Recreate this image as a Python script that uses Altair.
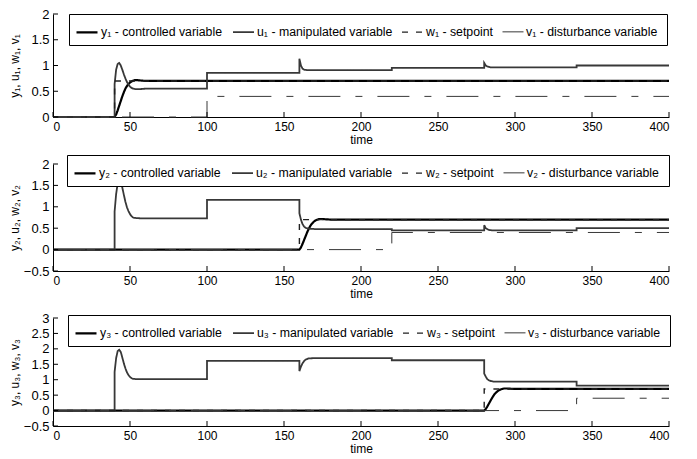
import altair as alt
import pandas as pd

# ---------------- data ----------------
x_ticks = [0, 50, 100, 150, 200, 250, 300, 350, 400]

# controlled-variable step response shape (offset added per panel)
y_rise_t = [0, 1, 2, 3, 4, 5, 6, 7, 8, 9, 10, 11, 12, 13, 15, 18, 22]
y_rise_v = [0, 0.05, 0.13, 0.22, 0.31, 0.40, 0.48, 0.55, 0.60, 0.64, 0.67, 0.69, 0.705, 0.715, 0.715, 0.705, 0.70]

# panel 1
y1_t = [0] + [40 + t for t in y_rise_t] + [400]
y1_v = [0] + y_rise_v + [0.70]
u1_t = [0, 40, 40, 41, 42, 43, 44, 45, 46, 47, 48, 49, 50, 51, 52, 54, 56, 60, 100, 100,
        160, 160, 161, 162, 163, 165, 220, 220, 280, 280, 281, 282, 284, 340, 340, 400]
u1_v = [0, 0, 0.64, 0.92, 1.03, 1.05, 1.0, 0.92, 0.83, 0.75, 0.68, 0.63, 0.59, 0.565, 0.55, 0.54, 0.54, 0.55, 0.55, 0.855,
        0.855, 1.13, 1.0, 0.94, 0.92, 0.91, 0.91, 0.955, 0.955, 1.05, 1.0, 0.98, 0.965, 0.965, 1.0, 1.0]
w1_t = [0, 40, 40, 400]
w1_v = [0, 0, 0.7, 0.7]
v1_t = [0, 100, 100, 400]
v1_v = [0, 0, 0.4, 0.4]

# panel 2
y2_t = [0] + [160 + t for t in y_rise_t] + [400]
y2_v = [0] + y_rise_v + [0.70]
u2_t = [0, 40, 40, 41, 42, 43, 44, 45, 46, 47, 48, 49, 50, 51, 52, 54, 58, 100, 100,
        160, 160, 161, 162, 163, 164, 166, 170, 220, 220, 280, 280, 281, 283, 285, 340, 340, 400]
u2_v = [0, 0, 0.89, 1.30, 1.55, 1.63, 1.58, 1.45, 1.28, 1.12, 0.99, 0.90, 0.83, 0.78, 0.75, 0.735, 0.73, 0.73, 1.16,
        1.16, 0.85, 0.70, 0.60, 0.54, 0.51, 0.49, 0.48, 0.48, 0.45, 0.45, 0.57, 0.50, 0.46, 0.45, 0.45, 0.50, 0.50]
w2_t = [0, 160, 160, 400]
w2_v = [0, 0, 0.7, 0.7]
v2_t = [0, 220, 220, 400]
v2_v = [0, 0, 0.4, 0.4]

# panel 3
y3_t = [0] + [280 + t for t in y_rise_t] + [400]
y3_v = [0] + y_rise_v + [0.70]
u3_t = [0, 40, 40, 41, 42, 43, 44, 45, 46, 47, 48, 49, 50, 51, 52, 54, 58, 100, 100,
        160, 160, 161, 162, 163, 164, 166, 170, 220, 220,
        280, 280, 281, 282, 283, 284, 286, 290, 340, 340, 400]
u3_v = [0, 0, 1.25, 1.70, 1.93, 1.97, 1.90, 1.72, 1.53, 1.37, 1.24, 1.15, 1.09, 1.05, 1.03, 1.02, 1.02, 1.02, 1.61,
        1.61, 1.28, 1.42, 1.53, 1.60, 1.65, 1.69, 1.70, 1.70, 1.63,
        1.63, 1.20, 1.10, 1.02, 0.98, 0.96, 0.94, 0.935, 0.935, 0.81, 0.81]
w3_t = [0, 280, 280, 400]
w3_v = [0, 0, 0.7, 0.7]
v3_t = [0, 340, 340, 400]
v3_v = [0, 0, 0.4, 0.4]

subs = ["\u2081", "\u2082", "\u2083"]
y_domains = [[0, 2], [-0.5, 2], [-0.5, 3]]
y_ticks = [[0, 0.5, 1, 1.5, 2], [-0.5, 0, 0.5, 1, 1.5, 2], [-0.5, 0, 0.5, 1, 1.5, 2, 2.5, 3]]

panels = [
    [(y1_t, y1_v), (u1_t, u1_v), (w1_t, w1_v), (v1_t, v1_v)],
    [(y2_t, y2_v), (u2_t, u2_v), (w2_t, w2_v), (v2_t, v2_v)],
    [(y3_t, y3_v), (u3_t, u3_v), (w3_t, w3_v), (v3_t, v3_v)],
]

FONT = "Liberation Sans"
W = 616
HEIGHTS = [103, 107, 108]
LEG_XY = [(16, 0), (14, -9), (15, -3)]


def make_panel(k):
    s = subs[k]
    names = [f"y{s}  - controlled variable", f"u{s}  - manipulated variable",
             f"w{s}  - setpoint", f"v{s}  - disturbance variable"]
    rows = []
    for name, (ts, vs) in zip(names, panels[k]):
        for i, (t, v) in enumerate(zip(ts, vs)):
            rows.append({"t": t, "v": v, "s": name, "i": i})
    df = pd.DataFrame(rows)
    H = HEIGHTS[k]
    xscale = alt.Scale(domain=[0, 400], nice=False)
    yscale = alt.Scale(domain=y_domains[k], nice=False, zero=False)
    xaxis = alt.Axis(values=x_ticks, title="time", format="d", labelOverlap=False)
    yaxis = alt.Axis(values=y_ticks[k], title=f"y{s}, u{s}, w{s}, v{s}", format="~g", labelOverlap=False)

    lx, ly = LEG_XY[k]
    legend = alt.Legend(
        title=None, orient="none", legendX=lx, legendY=ly, direction="horizontal",
        strokeColor="black", fillColor="white", padding=6, symbolType="stroke",
        symbolSize=441, labelFont=FONT, labelFontSize=12.3,
        labelColor="black", labelLimit=300, labelOffset=2, columnPadding=3,
    )
    lines = alt.Chart(df).mark_line().encode(
        x=alt.X("t:Q", scale=xscale, axis=xaxis),
        y=alt.Y("v:Q", scale=yscale, axis=yaxis),
        color=alt.Color("s:N", scale=alt.Scale(domain=names, range=["#000000", "#383838", "#202020", "#383838"]),
                        legend=legend),
        strokeDash=alt.StrokeDash("s:N", scale=alt.Scale(domain=names, range=[[1, 0], [1, 0], [6, 8], [32, 15, 7, 15]]),
                                  legend=legend),
        strokeWidth=alt.StrokeWidth("s:N", scale=alt.Scale(domain=names, range=[2.2, 1, 1, 1]), legend=legend),
        order="i:Q",
    )
    xt = alt.Chart(pd.DataFrame({"t": x_ticks})).mark_rule(color="black", strokeWidth=1).encode(
        x=alt.X("t:Q", scale=xscale, axis=xaxis), y=alt.value(H), y2=alt.value(H - 5))
    yt = alt.Chart(pd.DataFrame({"v": y_ticks[k]})).mark_rule(color="black", strokeWidth=1).encode(
        y=alt.Y("v:Q", scale=yscale, axis=yaxis), x=alt.value(0), x2=alt.value(5))
    return alt.layer(lines, xt, yt).properties(width=W, height=H)


chart = alt.VConcatChart(vconcat=[make_panel(0), make_panel(1), make_panel(2)], spacing=47, bounds="flush").resolve_scale(
    color="independent", strokeDash="independent", strokeWidth="independent"
).resolve_legend(color="independent", strokeDash="independent", strokeWidth="independent").properties(
    padding={"left": 0, "top": 0, "right": 0, "bottom": 0}, background="white"
).configure_view(stroke=None).configure_axis(
    grid=False, ticks=False, tickSize=0, domainColor="black", domainWidth=1,
    labelFont=FONT, labelFontSize=12, labelColor="black", labelPadding=4,
    titleFont=FONT, titleFontSize=12, titleFontWeight="normal", titleColor="black",
).configure_axisY(minExtent=27, maxExtent=27, titlePadding=5, labelFontSize=13).configure_axisX(titlePadding=2)

chart.save("out.html", embed_options={"renderer": "svg", "actions": False})
